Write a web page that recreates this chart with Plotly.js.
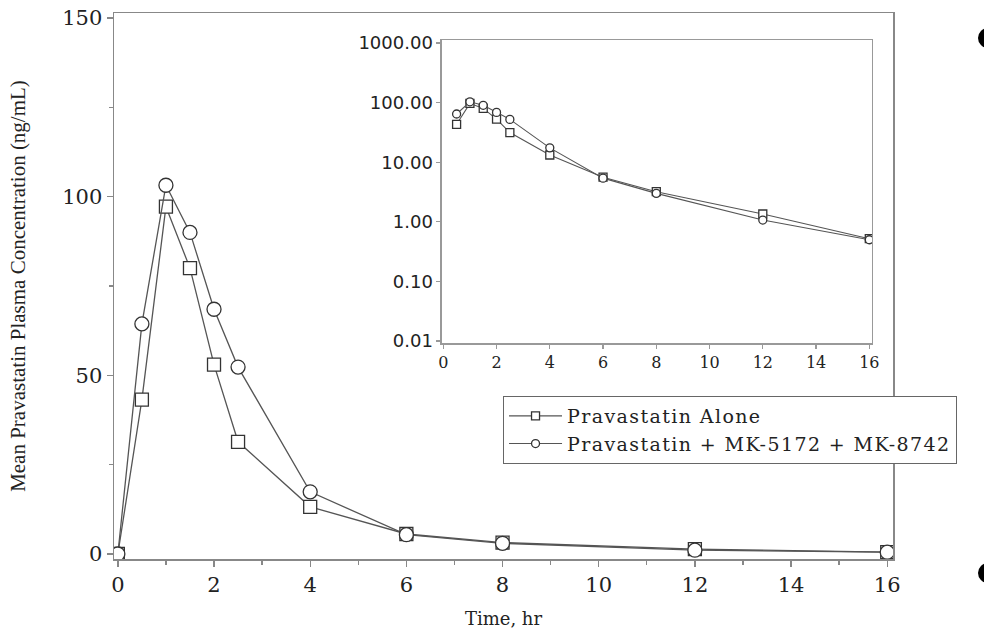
<!DOCTYPE html>
<html><head><meta charset="utf-8">
<script src="https://cdn.plot.ly/plotly-3.0.1.min.js"></script>
<style>html,body{margin:0;padding:0;background:#fff}
.legendtext{letter-spacing:1.4px}</style>
</head><body><div id="chart" style="width:984px;height:631px"></div>
<script>
const timeHr = [0, 0.5, 1, 1.5, 2, 2.5, 4, 6, 8, 12, 16];
const pravaAlone = [0, 43.2, 97.2, 80.0, 53.0, 31.4, 13.2, 5.6, 3.2, 1.35, 0.52];
const pravaCombo = [0, 64.4, 103.2, 90.0, 68.5, 52.3, 17.4, 5.4, 3.0, 1.07, 0.50];
const seriesNames = ["Pravastatin Alone", "Pravastatin + MK-5172 + MK-8742"];
const mainXTicks = [0, 2, 4, 6, 8, 10, 12, 14, 16];
const mainYTicks = [0, 50, 100, 150];
const insetXTicks = [0, 2, 4, 6, 8, 10, 12, 14, 16];
const insetYTicks = [0.01, 0.1, 1, 10, 100, 1000];
const insetYLabels = ["0.01", "0.10", "1.00", "10.00", "100.00", "1000.00"];

const lineCol = '#555', mkCol = '#333';
function tr(x, y, name, sym, size, ax, show, lw) {
  return {
    x: x, y: y, name: name, type: 'scatter', mode: 'lines+markers',
    xaxis: ax[0], yaxis: ax[1], showlegend: show,
    line: {color: lineCol, width: lw},
    marker: {symbol: sym, size: size, color: 'white', line: {color: mkCol, width: 1.3}}
  };
}
const data = [
  tr(timeHr, pravaAlone, seriesNames[0], 'square', 13, ['x', 'y'], false, 1.3),
  tr(timeHr, pravaCombo, seriesNames[1], 'circle', 14, ['x', 'y'], false, 1.3),
  tr(timeHr.slice(1), pravaAlone.slice(1), seriesNames[0], 'square', 8, ['x2', 'y2'], true, 1.1),
  tr(timeHr.slice(1), pravaCombo.slice(1), seriesNames[1], 'circle', 8, ['x2', 'y2'], true, 1.1)
];

const axBase = {
  showgrid: false, zeroline: false, showline: true, mirror: true,
  linecolor: '#888', linewidth: 1.5, ticks: 'outside', tickcolor: '#888', tickwidth: 1.3
};
const layout = {
  width: 984, height: 631,
  margin: {l: 114, r: 91, t: 13, b: 72},
  paper_bgcolor: '#fff', plot_bgcolor: '#fff',
  showlegend: true,
  xaxis: Object.assign({}, axBase, {
    range: [-0.08, 16.12], tickvals: mainXTicks, ticklen: 6,
    tickfont: {family: 'DejaVu Serif', size: 21, color: '#222'},
    minor: {dtick: 1, tick0: 0, ticks: 'outside', ticklen: 4, tickcolor: '#888'},
    title: {text: 'Time, hr', font: {family: 'DejaVu Serif', size: 18, color: '#222'}, standoff: 16}
  }),
  yaxis: Object.assign({}, axBase, {
    range: [-1.4, 151.4], tickvals: mainYTicks, ticklen: 6,
    tickfont: {family: 'DejaVu Serif', size: 21, color: '#222'},
    minor: {dtick: 25, tick0: 0, ticks: 'outside', ticklen: 4, tickcolor: '#888'},
    title: {text: 'Mean Pravastatin Plasma Concentration (ng/mL)', font: {family: 'Liberation Serif', size: 21, color: '#222'}, standoff: 31}
  }),
  xaxis2: Object.assign({}, axBase, {
    domain: [0.421, 0.973], anchor: 'y2', range: [-0.05, 16.1],
    tickvals: insetXTicks, ticklen: 4, linecolor: '#999', tickcolor: '#999',
    tickfont: {family: 'DejaVu Serif', size: 16, color: '#222'}
  }),
  yaxis2: Object.assign({}, axBase, {
    domain: [0.3956, 0.9505], anchor: 'x2', type: 'log', range: [-2.034, 3.05],
    tickvals: insetYTicks, ticktext: insetYLabels, ticklen: 4, linecolor: '#999', tickcolor: '#999',
    tickfont: {family: 'DejaVu Sans', size: 18, color: '#222'}
  }),
  legend: {
    x: 0.4994, y: 0.2985, xanchor: 'left', yanchor: 'top',
    bgcolor: '#fff', bordercolor: '#666', borderwidth: 1,
    font: {family: 'DejaVu Serif', size: 19, color: '#222'},
    itemwidth: 53, tracegroupgap: 0
  },
  shapes: [
    {type: 'circle', xref: 'paper', yref: 'paper', x0: 1.1091, x1: 1.1348, y0: 0.9359, y1: 0.9725, fillcolor: '#000', line: {width: 0}},
    {type: 'circle', xref: 'paper', yref: 'paper', x0: 1.1091, x1: 1.1348, y0: -0.044, y1: -0.0073, fillcolor: '#000', line: {width: 0}}
  ]
};
Plotly.newPlot('chart', data, layout, {displayModeBar: false, staticPlot: true});
</script></body></html>
